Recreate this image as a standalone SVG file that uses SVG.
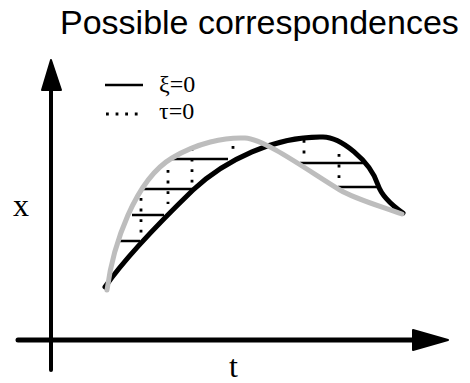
<svg xmlns="http://www.w3.org/2000/svg" width="470" height="383" viewBox="0 0 470 383">
<style>
.title{font-family:"Liberation Sans",Arial,sans-serif;font-size:34px;fill:#000}
.lbl{font-family:"Liberation Serif","Times New Roman",serif;font-size:32px;fill:#000}
.leg{font-family:"Liberation Serif","Times New Roman",serif;font-size:24px;fill:#000}
.axis{stroke:#000;fill:none;stroke-linecap:round}
.head{fill:#000;stroke:#000;stroke-width:2;stroke-linejoin:round}
.hl{stroke:#000;stroke-width:2.5;fill:none}
.dot{stroke:#000;stroke-width:2.8;fill:none;stroke-dasharray:2.8 7.8}
.blk{stroke:#000;stroke-width:5;fill:none;stroke-linecap:round}
.gry{stroke:#bdbdbd;stroke-width:5;fill:none;stroke-linecap:round}
</style>
<rect width="470" height="383" fill="#fff"/>
<text class="title" x="60" y="34">Possible correspondences</text>
<g id="axes">
<line class="axis" x1="51" y1="370" x2="51" y2="86" stroke-width="4"/>
<polygon class="head" points="51,60 42,90 61,90"/>
<line class="axis" x1="18" y1="340" x2="416" y2="340" stroke-width="5"/>
<polygon class="head" points="448,340 413,330 413,350"/>
<text class="lbl" x="13" y="216">x</text>
<text class="lbl" x="229" y="377">t</text>
</g>
<g id="legend">
<line class="hl" x1="105" y1="85" x2="143" y2="85"/>
<text class="leg" x="159" y="92">ξ=0</text>
<line class="dot" x1="106" y1="114" x2="140" y2="114" style="stroke-dasharray:2.8 6.8"/>
<text class="leg" x="159" y="119">τ=0</text>
</g>
<g id="connectors">
<line class="hl" x1="120" y1="241" x2="140" y2="241"/>
<line class="hl" x1="132" y1="215" x2="164" y2="215"/>
<line class="hl" x1="143" y1="189" x2="195" y2="189"/>
<line class="hl" x1="172" y1="159" x2="228" y2="159"/>
<line class="hl" x1="300" y1="163" x2="363" y2="163"/>
<line class="hl" x1="338" y1="187" x2="377" y2="187"/>
<line class="dot" x1="141" y1="198" x2="141" y2="233"/>
<line class="dot" x1="168" y1="170" x2="168" y2="204"/>
<line class="dot" x1="192" y1="148" x2="192" y2="183"/>
<line class="dot" x1="233" y1="146" x2="233" y2="149"/>
<line class="dot" x1="304" y1="140" x2="304" y2="154"/>
<line class="dot" x1="339" y1="154" x2="339" y2="179"/>
</g>
<g id="curve-xi">
<path class="blk" d="M105,287 C125,258 160,222 193,190 C225,160 275,136 323,137 C340,137 370,160 378,185 C382,197 393,206 403,213"/>
</g>
<g id="curve-tau">
<path class="gry" d="M107,290 C113,245 135,180 172,158 C197,143 225,137 245,138 C265,139 310,172 340,190 C355,199 380,206 402,214"/>
</g>
</svg>
